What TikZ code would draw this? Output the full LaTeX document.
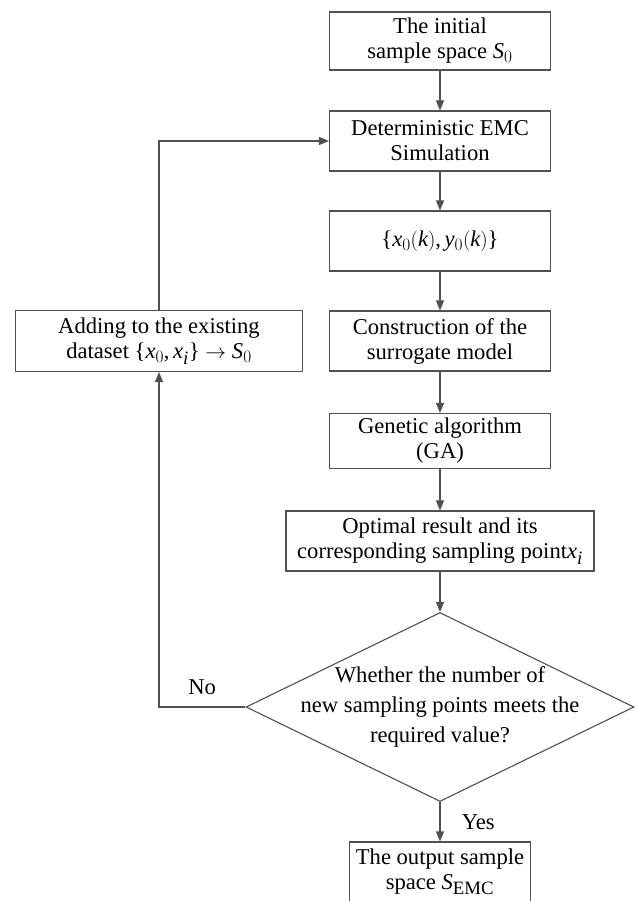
\documentclass[tikz,border=0pt]{standalone}
\usepackage{fontspec}
\setmainfont{Liberation Serif}
\usepackage[italic]{mathastext}
\usepackage{tikz}
\usetikzlibrary{arrows.meta,shapes.geometric,positioning}
\definecolor{linegray}{RGB}{80,80,80}

\begin{document}
\begin{tikzpicture}[->,>={Triangle[length=10pt,width=8pt]},x=1pt,y=1pt,
                    line width=1.1pt,node distance=100pt,
                    every edge/.append style={draw=linegray},
                    font=\fontsize{22.6}{25}\selectfont]
  \tikzstyle{stepbox}=[draw=linegray,fill=white,align=center,inner sep=2pt,
                       minimum width=221pt,minimum height=60pt]
  \tikzstyle{decision}=[diamond,draw=linegray,minimum width=388pt,
                        minimum height=189pt,inner sep=0pt]

  \path[use as bounding box] (0,0) rectangle (637,-901);

  \node[stepbox,minimum height=58pt] (init) at (440,-41) {The initial\\ sample space $S_0$};
  \node[stepbox]                     (sim)  [below of=init] {Deterministic EMC\\Simulation};
  \node[stepbox]                     (data) [below of=sim]  {$\{x_0(k), y_0(k)\}$};
  \node[stepbox]                     (surr) [below of=data] {Construction of the\\surrogate model};
  \node[stepbox,minimum height=55pt] (ga)   [below of=surr] {Genetic algorithm\\(GA)};
  \node[stepbox,minimum width=308pt] (opt)  [below of=ga]   {Optimal result and its\\corresponding sampling point$x_i$};
  \node[decision]                    (dec)  [below of=opt,node distance=166pt] {};
  \node[align=center,font=\fontsize{22.6}{30}\selectfont] (dectext) at (dec)
       {Whether the number of\\new sampling points meets the\\required value?};
  \node[stepbox,minimum width=181pt] (out)  [below of=dec,node distance=165pt] {The output sample\\space $S_{\mathrm{EMC}}$};
  \node[stepbox,minimum width=287pt,minimum height=61pt] (add) [left of=surr,node distance=281pt]
       {Adding to the existing\\dataset $\{x_0,x_i\}\to S_0$};

  \path (init) edge (sim)
        (sim)  edge (data)
        (data) edge (surr)
        (surr) edge (ga)
        (ga)   edge (opt)
        (opt)  edge (dec)
        (dec)  edge node[right=18pt] {Yes} (out);

  % loop back
  \draw[draw=linegray] (dec) -| node[above=8pt,pos=0.25] {No} (add);
  \draw[draw=linegray] (add) |- (sim);
\end{tikzpicture}
\end{document}
